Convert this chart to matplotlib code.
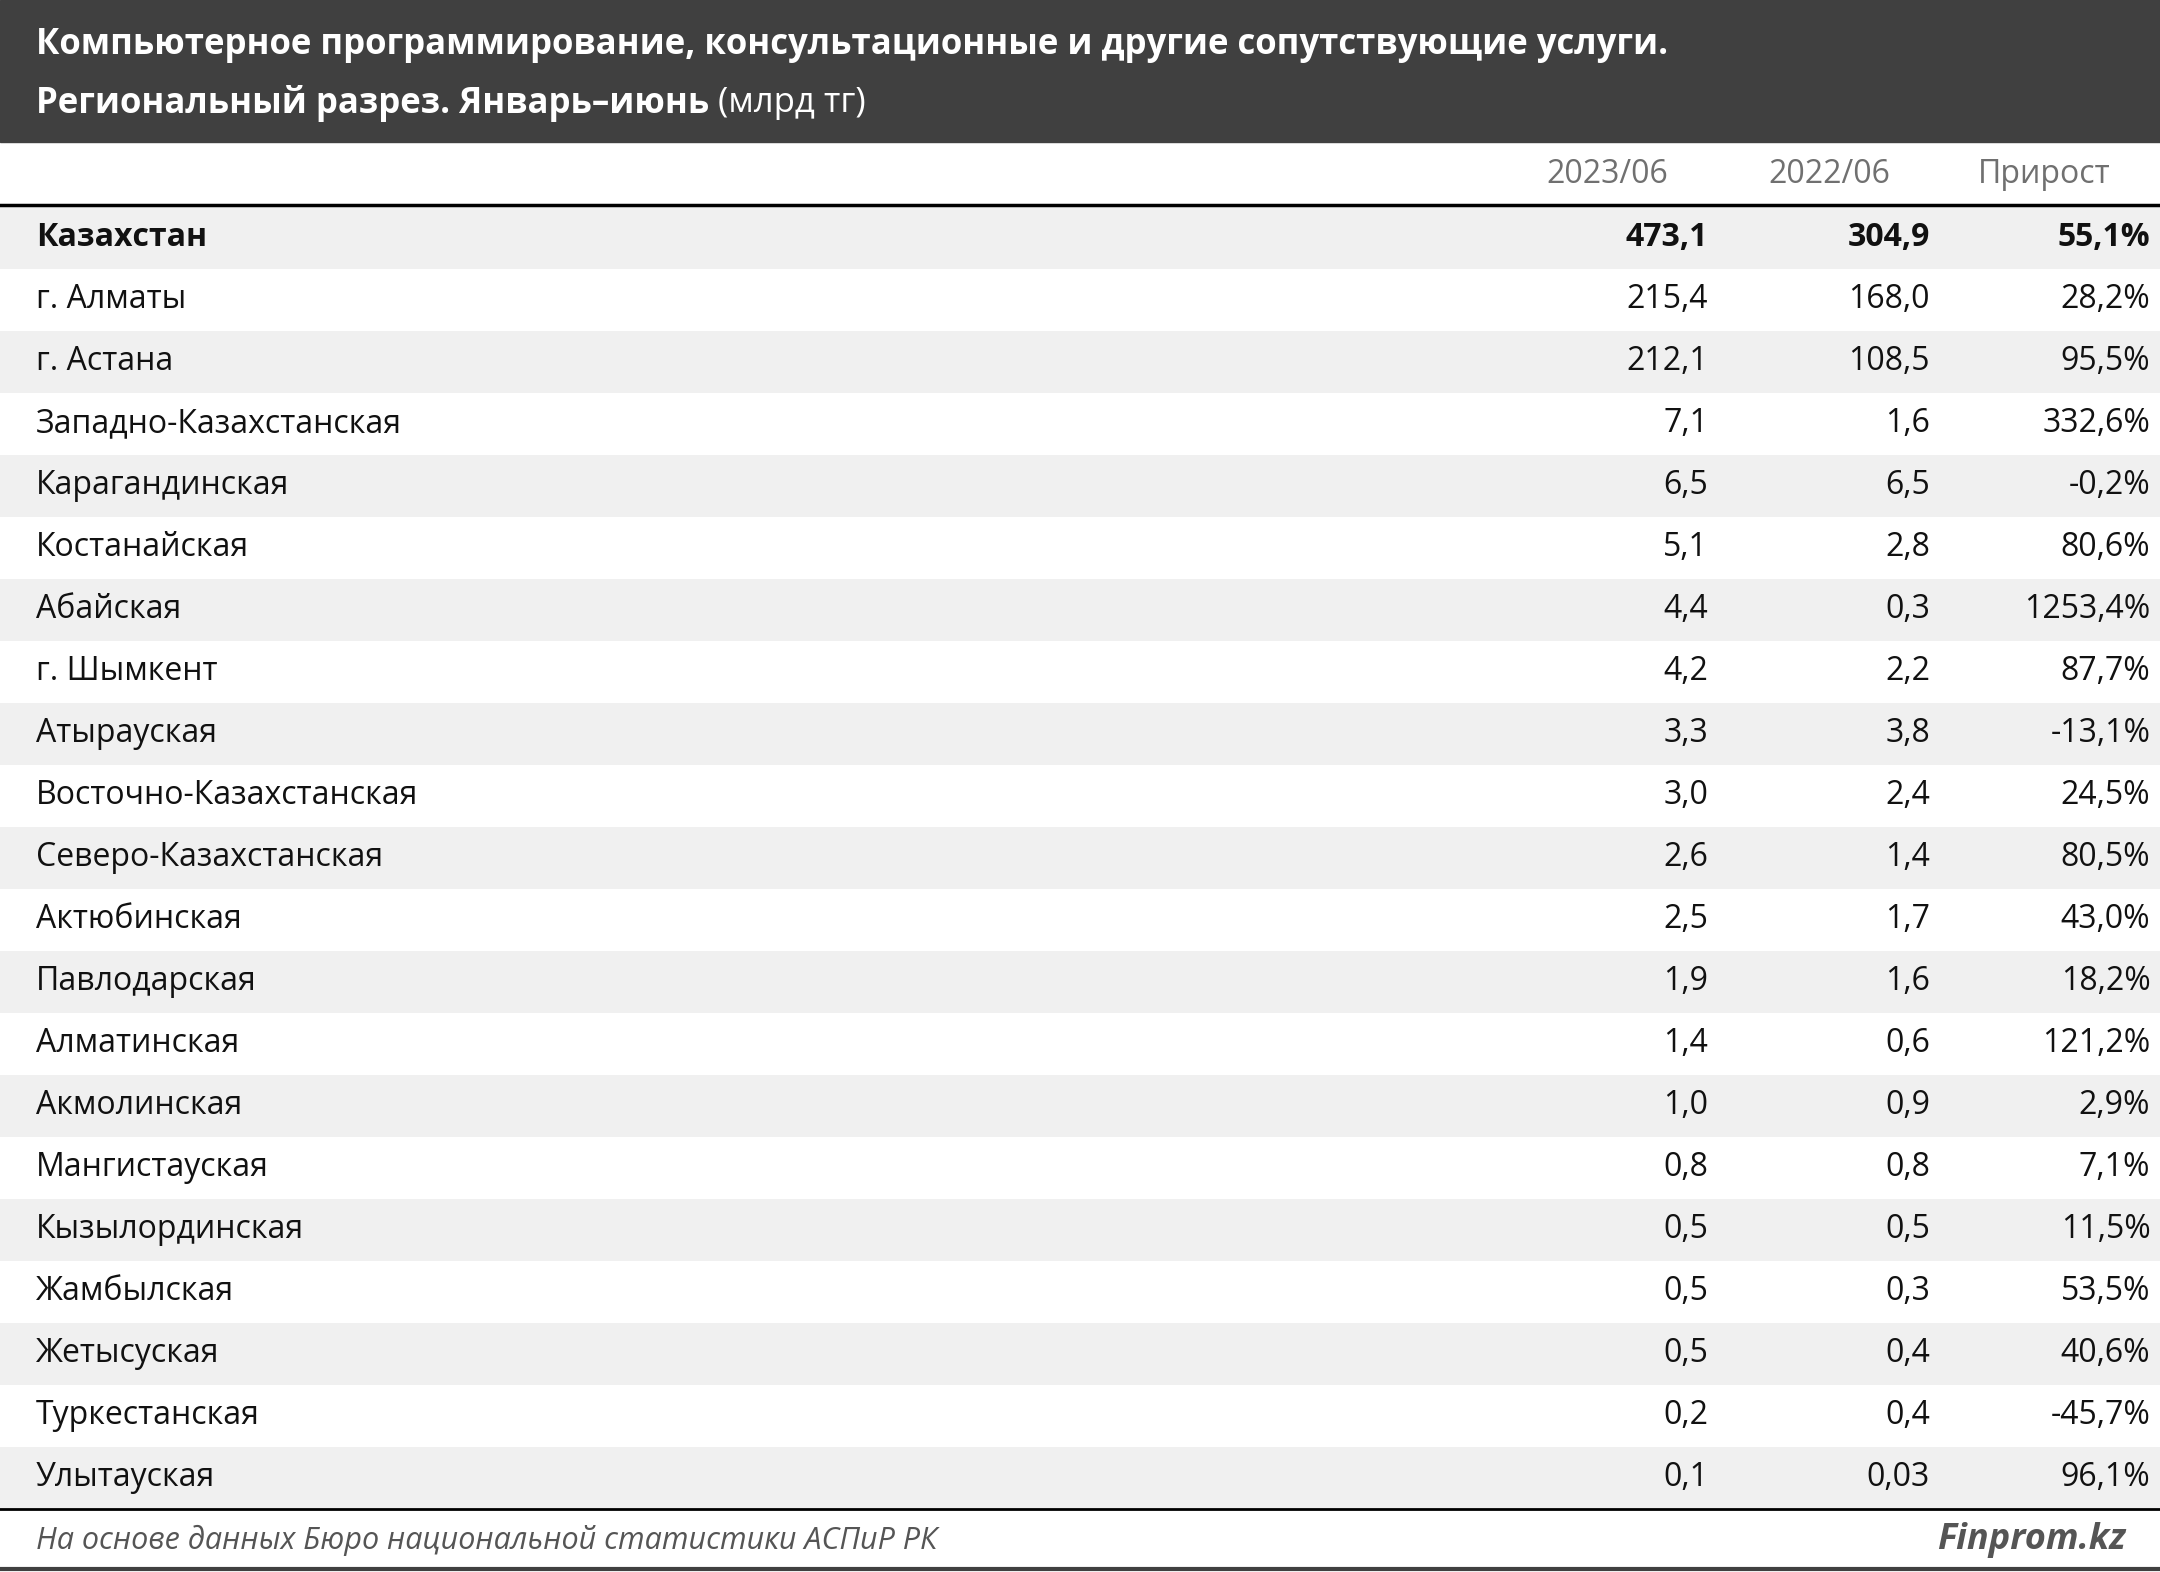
import matplotlib.pyplot as plt
from matplotlib.patches import Rectangle

plt.rcParams['font.family'] = ['Open Sans', 'DejaVu Sans']

title_1 = 'Компьютерное программирование, консультационные и другие сопутствующие услуги.'
title_2 = 'Региональный разрез. Январь–июнь'
title_unit = ' (млрд тг)'
headers = ['2023/06', '2022/06', 'Прирост']

regions = ['Казахстан', 'г. Алматы', 'г. Астана', 'Западно-Казахстанская', 'Карагандинская',
           'Костанайская', 'Абайская', 'г. Шымкент', 'Атырауская', 'Восточно-Казахстанская',
           'Северо-Казахстанская', 'Актюбинская', 'Павлодарская', 'Алматинская', 'Акмолинская',
           'Мангистауская', 'Кызылординская', 'Жамбылская', 'Жетысуская', 'Туркестанская',
           'Улытауская']
val_2023 = ['473,1', '215,4', '212,1', '7,1', '6,5', '5,1', '4,4', '4,2', '3,3', '3,0', '2,6',
            '2,5', '1,9', '1,4', '1,0', '0,8', '0,5', '0,5', '0,5', '0,2', '0,1']
val_2022 = ['304,9', '168,0', '108,5', '1,6', '6,5', '2,8', '0,3', '2,2', '3,8', '2,4', '1,4',
            '1,7', '1,6', '0,6', '0,9', '0,8', '0,5', '0,3', '0,4', '0,4', '0,03']
growth = ['55,1%', '28,2%', '95,5%', '332,6%', '-0,2%', '80,6%', '1253,4%', '87,7%', '-13,1%',
          '24,5%', '80,5%', '43,0%', '18,2%', '121,2%', '2,9%', '7,1%', '11,5%', '53,5%',
          '40,6%', '-45,7%', '96,1%']
source = 'На основе данных Бюро национальной статистики АСПиР РК'
brand = 'Finprom.kz'

W, H = 1568, 1141
fig = plt.figure(figsize=(21.6, 15.72), dpi=100)
ax = fig.add_axes([0, 0, 1, 1])
ax.set_xlim(0, W)
ax.set_ylim(H, 0)
ax.axis('off')

fs = 23
ax.add_patch(Rectangle((0, 0), W, 103, color='#404040'))
ax.text(26, 33, title_1, color='white', fontsize=25, fontweight='bold', va='center')
t = ax.text(26, 75, title_2, color='white', fontsize=25, fontweight='bold', va='center')
fig.canvas.draw()
bb = t.get_window_extent().transformed(ax.transData.inverted())
ax.text(bb.x1, 75, title_unit, color='white', fontsize=25, va='center')

col_x = [1240, 1401, 1561]
for x, h in zip(col_x, headers):
    ax.text(x - 29, 127, h, fontsize=fs, color='#707070', ha='right', va='center')
ax.plot([0, W], [149, 149], color='black', lw=2.5)

top, rh = 150, 45
for i, name in enumerate(regions):
    y0 = top + i * rh
    if i % 2 == 0:
        ax.add_patch(Rectangle((0, y0), W, rh, color='#f0f0f0', lw=0))
    yc = y0 + rh / 2
    weight = 'bold' if i == 0 else 'normal'
    ax.text(26, yc, name, fontsize=fs, fontweight=weight, va='center', color='#111111')
    for x, v in zip(col_x, [val_2023[i], val_2022[i], growth[i]]):
        ax.text(x, yc, v, fontsize=fs, fontweight=weight, va='center', ha='right', color='#111111')

yb = top + len(regions) * rh
ax.plot([0, W], [yb, yb], color='black', lw=2)
ax.text(26, yb + 23, source, fontsize=22, style='italic', color='#555555', va='center')
ax.text(1543, yb + 23, brand, fontsize=26, style='italic', fontweight='bold',
        color='#555555', va='center', ha='right')
ax.plot([0, W], [H - 2, H - 2], color='#404040', lw=3)

fig.savefig('out.png', dpi=100)
